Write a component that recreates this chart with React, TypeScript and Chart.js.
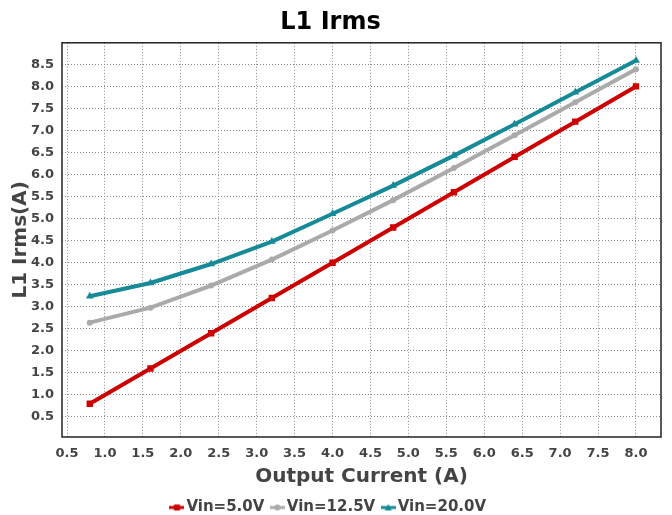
import React, { useEffect, useRef } from "react";
import { Chart, registerables } from "chart.js";

Chart.register(...registerables);

const xValues = [0.8, 1.6, 2.4, 3.2, 4.0, 4.8, 5.6, 6.4, 7.2, 8.0];
const vin5 = [0.8, 1.6, 2.4, 3.2, 4.0, 4.8, 5.6, 6.4, 7.2, 8.0];
const vin12 = [2.64, 2.98, 3.48, 4.07, 4.73, 5.42, 6.15, 6.89, 7.64, 8.39];
const vin20 = [3.24, 3.54, 3.97, 4.48, 5.11, 5.75, 6.43, 7.14, 7.87, 8.59];
const seriesNames = ["Vin=5.0V", "Vin=12.5V", "Vin=20.0V"];
const seriesColors = ["#CC0000", "#AAAAAA", "#168A97"];
const seriesStyles = ["rect", "circle", "triangle"];

const FONT = "'DejaVu Sans', sans-serif";

function makeIcon(color: string, style: string): HTMLCanvasElement {
  const c = document.createElement("canvas");
  c.width = 15;
  c.height = 8;
  const ctx = c.getContext("2d")!;
  ctx.strokeStyle = color;
  ctx.fillStyle = color;
  ctx.lineWidth = 3;
  ctx.beginPath();
  ctx.moveTo(0, 4);
  ctx.lineTo(15, 4);
  ctx.stroke();
  if (style === "rect") {
    ctx.fillRect(4.5, 1, 6, 6);
  } else if (style === "circle") {
    ctx.beginPath();
    ctx.arc(7.5, 4, 3, 0, Math.PI * 2);
    ctx.fill();
  } else {
    ctx.beginPath();
    ctx.moveTo(7.5, 0.5);
    ctx.lineTo(11, 7);
    ctx.lineTo(4, 7);
    ctx.closePath();
    ctx.fill();
  }
  return c;
}

const borderPlugin = {
  id: "areaBorder",
  beforeLayout(chart: any) {
    const lg = chart.legend;
    if (lg && !lg.__patched) {
      const orig = lg.fit;
      lg.fit = function () {
        orig.call(this);
        this.height = 26;
      };
      lg.__patched = true;
    }
  },
  afterDraw(chart: any) {
    const { ctx, chartArea } = chart;
    ctx.save();
    ctx.strokeStyle = "#222";
    ctx.lineWidth = 1.5;
    ctx.strokeRect(chartArea.left, chartArea.top, chartArea.right - chartArea.left, chartArea.bottom - chartArea.top);
    ctx.restore();
  },
};

export default function App() {
  const ref = useRef<HTMLCanvasElement>(null);
  useEffect(() => {
    const allSeries = [vin5, vin12, vin20];
    const icons = seriesColors.map((c, i) => makeIcon(c, seriesStyles[i]));
    const datasets = allSeries.map((s, i) => ({
      label: seriesNames[i],
      data: xValues.map((x, j) => ({ x, y: s[j] })),
      borderColor: seriesColors[i],
      backgroundColor: seriesColors[i],
      borderWidth: 4,
      pointStyle: seriesStyles[i] as any,
      pointRadius: i === 0 ? 4.5 : i === 1 ? 3 : 4.5,
      pointBorderWidth: 0,
      tension: 0,
    }));
    const tickFont = { family: FONT, size: 13, weight: "bold" as const };
    const titleFont = { family: FONT, size: 20, weight: "bold" as const };
    const grid = {
      color: "#8a8a8a",
      lineWidth: 1,
      drawTicks: false,
    };
    const chart = new Chart(ref.current!, {
      type: "line",
      data: { datasets },
      plugins: [borderPlugin],
      options: {
        animation: false,
        responsive: true,
        maintainAspectRatio: false,
        layout: { padding: { left: 0, right: 11, top: 0, bottom: 0 } },
        plugins: {
          title: {
            display: true,
            text: "L1 Irms",
            color: "#000",
            font: { family: FONT, size: 24, weight: "bold" },
            padding: { top: 8, bottom: 6 },
          },
          legend: {
            position: "bottom",
            labels: {
              usePointStyle: true,
              pointStyleWidth: 4,
              boxWidth: 4,
              boxHeight: 8,
              padding: 11,
              color: "#444",
              font: { family: FONT, size: 15, weight: "bold" },
              generateLabels: (ch: any) => {
                const def = Chart.defaults.plugins.legend.labels.generateLabels(ch);
                return def.map((l: any, i: number) => ({ ...l, pointStyle: icons[i], lineWidth: 0 }));
              },
            },
          },
          tooltip: { enabled: false },
        },
        scales: {
          x: {
            type: "linear",
            min: 0.434,
            max: 8.33,
            border: { display: false, dash: [1, 2] },
            grid: grid as any,
            ticks: { stepSize: 0.5, includeBounds: false, color: "#444", font: tickFont, padding: 9, maxRotation: 0, callback: (v: any) => Number(v).toFixed(1) },
            title: { display: true, text: "Output Current (A)", color: "#444", font: titleFont, padding: { top: 3, bottom: 0 } },
            afterFit: (s: any) => { s.height = 52; },
          },
          y: {
            type: "linear",
            min: 0.045,
            max: 8.99,
            border: { display: false, dash: [1, 2] },
            grid: grid as any,
            ticks: { stepSize: 0.5, includeBounds: false, color: "#444", font: tickFont, padding: 8, callback: (v: any) => Number(v).toFixed(1) },
            title: { display: true, text: "L1 Irms(A)", color: "#444", font: titleFont, padding: { top: 9, bottom: 0 } },
            afterFit: (s: any) => { s.width = 62; },
          },
        },
      } as any,
    });
    return () => chart.destroy();
  }, []);
  return (
    <div style={{ position: "fixed", left: 0, top: 0, width: 672, height: 515, background: "#fff" }}>
      <canvas ref={ref} />
    </div>
  );
}
